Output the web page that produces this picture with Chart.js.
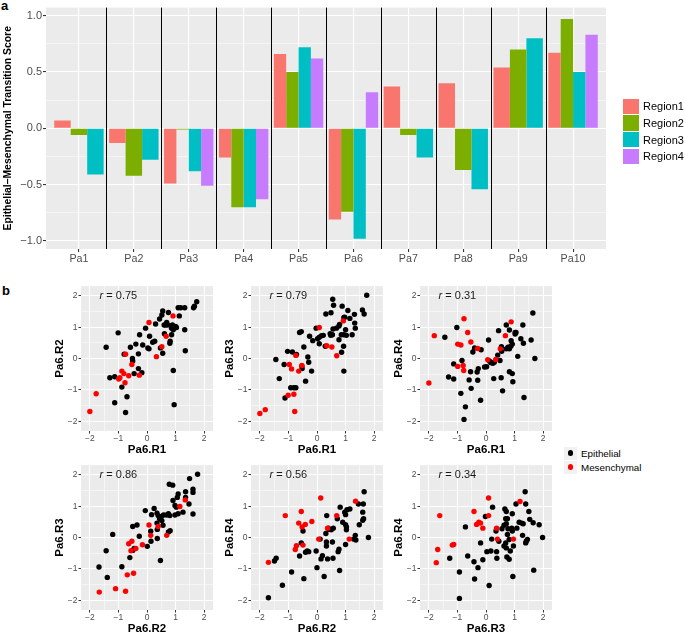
<!DOCTYPE html>
<html>
<head>
<meta charset="utf-8">
<title>EMT score by region</title>
<script src="https://cdn.jsdelivr.net/npm/chart.js@4.4.0/dist/chart.umd.min.js"></script>
<style>
    html, body { margin: 0; padding: 0; overflow: hidden; background: #fff; }
    #fig { position: relative; width: 685px; height: 633px; overflow: hidden; font-family: "Liberation Sans", Arial, Helvetica, sans-serif; }
    #fig canvas { position: absolute; }
    .tag { position: absolute; font-weight: bold; font-size: 13px; line-height: 13px; color: #000; }
    .legend { position: absolute; color: #000; }
    .bar-row { height: 16.7px; display: flex; align-items: center; font-size: 11px; }
    .bar-swatch { width: 15.5px; height: 15.5px; margin-right: 4.5px; }
    .pt-row { height: 14px; display: flex; align-items: center; font-size: 9.8px; }
    .pt-key { width: 13px; height: 13px; margin-right: 4px; background: #F2F2F2; display: flex; align-items: center; justify-content: center; }
    .pt-dot { width: 5.4px; height: 5.4px; border-radius: 50%; }
</style>
</head>
<body>
<div id="fig">
    <div class="tag" style="left:1px;top:-1px">a</div>
    <canvas id="barChart" width="685" height="275" style="left:0;top:0"></canvas>
    <div id="barLegend" class="legend" style="left:623px;top:98px"></div>

    <div class="tag" style="left:2px;top:284px">b</div>
    <canvas id="sc0" width="176" height="177"></canvas>
    <canvas id="sc1" width="176" height="177"></canvas>
    <canvas id="sc2" width="176" height="177"></canvas>
    <canvas id="sc3" width="176" height="177"></canvas>
    <canvas id="sc4" width="176" height="177"></canvas>
    <canvas id="sc5" width="176" height="177"></canvas>
    <div id="pointLegend" class="legend" style="left:564px;top:446px"></div>
</div>

<script>
// ---- panel a data ----
const patients = ['Pa1', 'Pa2', 'Pa3', 'Pa4', 'Pa5', 'Pa6', 'Pa7', 'Pa8', 'Pa9', 'Pa10'];
const region1 = [0.07, -0.13, -0.49, -0.26, 0.66, -0.81, 0.37, 0.40, 0.54, 0.67];
const region2 = [-0.06, -0.42, -0.01, -0.70, 0.50, -0.74, -0.06, -0.37, 0.70, 0.97];
const region3 = [-0.41, -0.28, -0.38, -0.70, 0.72, -0.98, -0.26, -0.54, 0.80, 0.50];
const region4 = [null, null, -0.51, -0.63, 0.62, 0.32, null, null, null, 0.83];
const regionNames = ['Region1', 'Region2', 'Region3', 'Region4'];
const scoreTicks = [-1, -0.5, 0, 0.5, 1];
const scoreGrid = [-1, -0.75, -0.5, -0.25, 0, 0.25, 0.5, 0.75, 1];

// ---- panel b data: [x, y] per sample ----
const r1r2Epi = [[-1.43,0.36],[-1.01,0.82],[-1.30,-0.61],[-1.13,-0.58],[-1.13,-1.41],[-0.88,-0.91],[-0.70,-1.22],[-0.75,-1.72],[-0.80,0.14],[-0.58,0.36],[-0.39,0.46],[-0.51,0.00],[-0.50,-0.08],[-0.26,0.76],[-0.30,0.15],[-0.30,-0.32],[-0.18,-0.45],[-0.45,-0.48],[-0.15,0.43],[-0.05,0.97],[0.09,0.71],[0.07,0.31],[0.03,0.34],[0.20,0.52],[0.27,0.55],[0.30,1.10],[0.44,1.26],[0.52,1.39],[0.55,1.52],[0.47,0.34],[0.55,0.17],[0.61,0.79],[0.69,1.15],[0.75,1.47],[0.81,0.55],[0.80,0.49],[0.86,0.76],[0.86,0.97],[0.89,1.07],[0.92,0.92],[1.00,1.02],[1.03,0.99],[0.89,1.02],[0.72,1.07],[0.64,1.07],[1.09,1.62],[1.18,1.62],[1.32,1.62],[1.13,1.36],[1.32,0.92],[1.34,0.25],[1.63,1.62],[1.66,1.67],[1.74,1.81],[0.92,-0.38],[0.95,-1.47],[0.60,1.07]];
const r1r2Mes = [[-2.00,-1.69],[-1.78,-1.12],[-0.99,-0.65],[-0.95,-0.61],[-0.88,-0.40],[-0.81,-0.48],[-0.77,-0.77],[-0.64,-0.55],[-0.53,-0.19],[-0.75,0.14],[-0.27,-0.53],[0.07,1.15],[0.33,0.06],[0.52,0.38],[0.67,0.71],[0.91,1.36]];

const r1r3Epi = [[1.74,2.02],[0.55,1.89],[0.58,1.70],[0.49,1.46],[0.31,1.42],[0.88,1.67],[1.08,1.53],[1.59,1.55],[1.65,1.42],[1.31,1.41],[0.94,1.31],[0.97,1.32],[1.15,1.28],[0.79,1.09],[0.77,1.04],[0.68,0.97],[0.56,0.94],[0.46,0.79],[0.48,0.74],[0.54,0.76],[0.85,0.76],[0.94,0.76],[1.03,0.74],[1.00,0.92],[1.34,0.97],[1.32,1.13],[1.23,0.76],[0.16,0.73],[0.08,0.68],[0.22,0.74],[0.02,0.63],[-0.15,0.57],[-0.26,0.71],[-0.03,0.97],[-0.55,0.86],[-0.61,0.83],[-0.46,0.37],[0.08,0.47],[0.29,0.39],[0.77,0.60],[0.86,0.20],[0.93,0.39],[0.94,-0.40],[-0.32,0.05],[-0.29,-0.12],[-0.19,-0.40],[-0.40,-0.72],[-0.53,-0.24],[-0.52,-0.32],[-1.03,0.23],[-0.86,0.21],[-0.72,0.13],[-1.44,-0.03],[-1.15,-0.19],[-1.32,-0.64],[-1.12,-1.26],[-0.92,-0.93],[-0.81,-0.93],[-0.74,-0.93]];
const r1r3Mes = [[-2.00,-1.75],[-1.81,-1.63],[-0.78,-1.69],[-1.01,-1.17],[-0.81,-1.14],[-0.97,-0.19],[-0.89,-0.33],[-0.64,-0.40],[-0.53,-0.22],[-0.74,0.10],[0.08,0.99],[0.34,0.41],[0.52,0.37],[0.69,0.09],[0.92,1.20]];

const r1r4Epi = [[-1.44,0.68],[-1.02,0.99],[-0.84,-0.06],[-1.13,-0.17],[-1.31,-0.59],[-1.13,-0.65],[-0.88,-1.11],[-0.72,-1.54],[-0.77,-1.94],[-0.19,-1.33],[-0.52,-0.95],[-0.59,-0.68],[-0.54,-0.42],[-0.29,-0.69],[-0.31,-0.43],[-0.27,-0.32],[-0.46,0.21],[-0.40,0.34],[-0.17,0.28],[0.09,0.59],[-0.05,-0.27],[0.02,-0.26],[0.12,-0.08],[0.17,-0.13],[0.24,-0.15],[0.29,-0.12],[0.27,-0.64],[0.44,0.89],[0.41,0.11],[0.49,-0.06],[0.53,-0.61],[0.58,-1.03],[0.54,0.38],[0.55,0.23],[0.71,1.07],[0.82,0.91],[0.77,0.36],[0.71,0.31],[0.82,0.31],[0.87,0.39],[0.88,0.57],[0.92,0.46],[0.82,-0.42],[0.92,-0.48],[0.94,-0.74],[1.02,0.78],[1.05,0.83],[1.02,0.83],[1.11,0.07],[1.29,1.07],[1.22,0.63],[1.31,0.49],[1.33,-1.24],[1.58,0.59],[1.64,1.45],[1.71,0.00]];
const r1r4Mes = [[-1.81,0.73],[-2.00,-0.78],[-0.77,1.27],[-0.64,0.83],[-0.99,0.46],[-0.88,0.43],[-0.53,0.53],[-0.29,0.32],[-0.99,-0.25],[-0.80,-0.22],[-0.78,-0.38],[0.06,-0.04],[0.34,-0.03],[0.50,0.31],[0.68,0.73],[0.88,1.17]];

const r2r3Epi = [[1.77,2.02],[1.49,1.88],[0.78,1.70],[0.90,1.67],[1.61,1.54],[1.61,1.44],[1.35,1.46],[1.09,1.39],[1.06,1.28],[1.35,1.28],[1.47,1.07],[0.91,1.18],[0.98,1.02],[1.03,0.97],[1.09,0.76],[0.98,0.72],[1.26,0.81],[1.61,0.75],[0.75,0.76],[0.80,0.70],[0.69,0.72],[0.58,0.72],[0.50,0.67],[0.39,0.70],[0.44,0.60],[0.25,0.93],[0.16,0.73],[0.35,0.78],[0.52,0.54],[0.56,0.39],[0.35,0.46],[-0.06,0.86],[-0.35,0.40],[-0.50,0.35],[0.36,0.26],[0.13,0.20],[0.14,-0.12],[0.36,-0.03],[0.01,-0.28],[0.47,-0.73],[0.75,0.18],[0.81,0.22],[-0.60,-0.64],[-0.50,-0.41],[-0.45,-0.35],[-0.27,0.04],[-1.20,0.10],[-1.43,-0.42],[-1.68,-0.94],[-1.39,-1.27],[-0.88,-0.93]];
const r2r3Mes = [[-1.67,-1.74],[-1.10,-1.63],[-0.75,-1.71],[-0.69,-1.19],[-0.47,-1.14],[-0.64,-0.20],[-0.53,-0.12],[-0.56,-0.42],[-0.39,-0.35],[-0.16,-0.23],[0.13,0.07],[0.07,0.40],[0.39,0.35],[0.69,0.07],[1.15,0.99],[1.34,1.20]];

const r2r4Epi = [[1.65,1.46],[1.45,1.07],[1.62,1.07],[1.60,0.81],[1.63,0.60],[1.60,0.55],[1.48,0.41],[1.80,0.00],[1.34,0.07],[1.36,-0.08],[1.28,-0.05],[1.05,0.89],[0.97,0.81],[1.00,0.73],[0.81,0.97],[1.15,0.91],[0.90,0.49],[1.00,0.41],[1.03,0.34],[1.03,0.25],[1.00,-0.22],[0.77,-0.37],[0.74,-0.45],[0.79,-1.05],[0.71,0.60],[0.57,0.30],[0.50,0.25],[0.42,0.26],[0.40,0.30],[0.34,0.70],[0.31,0.13],[0.33,-0.14],[0.33,-0.27],[0.37,-0.68],[0.54,-0.14],[0.56,-0.66],[0.11,-0.05],[0.14,-0.68],[0.19,-0.58],[0.00,-0.96],[0.25,-1.24],[-0.03,-0.43],[-0.34,-0.43],[-0.29,-0.45],[-0.40,-0.47],[-0.49,0.21],[-0.55,-0.17],[-0.61,-0.59],[-0.46,-1.31],[-0.89,-1.10],[-1.21,-1.52],[-1.70,-1.92],[-1.43,-0.66],[-1.49,-0.75]];
const r2r4Mes = [[-1.70,-0.79],[-1.11,0.70],[-0.55,0.83],[-0.64,0.46],[-0.41,0.42],[-0.52,0.34],[-0.18,0.51],[0.13,1.26],[0.06,-0.05],[0.37,0.30],[0.69,0.70],[1.35,1.16],[1.13,-0.05],[-0.72,-0.26],[-0.76,-0.38],[-0.49,-0.24]];

const r3r4Epi = [[-0.72,0.34],[-0.02,0.67],[0.23,0.97],[-0.19,-0.17],[-1.27,-0.66],[-0.93,-1.10],[-0.64,-0.59],[-0.42,-0.77],[-0.28,-0.96],[-0.40,-1.32],[-0.11,-0.71],[0.11,-1.53],[-0.93,-1.94],[0.03,-0.45],[0.17,-0.43],[0.20,-0.05],[0.35,0.21],[0.37,-0.45],[0.38,-0.66],[0.45,-0.12],[0.56,0.28],[0.63,0.39],[0.66,0.91],[0.71,0.83],[0.69,0.60],[0.75,0.60],[0.77,0.28],[0.75,0.10],[0.69,-0.17],[0.63,-0.27],[0.71,-0.33],[0.85,-0.43],[0.73,-0.62],[0.81,-0.69],[0.94,-1.24],[0.92,0.76],[0.90,0.30],[0.92,0.21],[0.96,-0.27],[0.81,-0.06],[1.05,1.07],[1.08,0.30],[1.16,0.49],[1.25,0.46],[1.30,0.44],[1.28,0.07],[1.37,1.46],[1.39,1.07],[1.41,-0.12],[1.45,-0.06],[1.39,-0.17],[1.50,0.83],[1.53,0.58],[1.65,0.47],[1.86,0.41],[1.98,0.00],[1.67,-1.04],[0.71,0.44]];
const r3r4Mes = [[-1.62,0.70],[-1.69,-0.38],[-1.74,-0.80],[-1.18,-0.24],[-1.13,-0.22],[-0.42,0.83],[0.09,1.26],[0.09,0.70],[-0.33,0.42],[-0.25,0.49],[-0.19,0.46],[-0.11,0.30],[0.37,0.30],[0.40,-0.05],[0.96,-0.05],[1.19,1.15]];

const pairTitles = [['Pa6.R1', 'Pa6.R2'], ['Pa6.R1', 'Pa6.R3'], ['Pa6.R1', 'Pa6.R4'],
                    ['Pa6.R2', 'Pa6.R3'], ['Pa6.R2', 'Pa6.R4'], ['Pa6.R3', 'Pa6.R4']];
const pairEpi = [r1r2Epi, r1r3Epi, r1r4Epi, r2r3Epi, r2r4Epi, r3r4Epi];
const pairMes = [r1r2Mes, r1r3Mes, r1r4Mes, r2r3Mes, r2r4Mes, r3r4Mes];
const pairR = [0.75, 0.79, 0.31, 0.86, 0.56, 0.34];
const pairTicks = [-2, -1, 0, 1, 2];
const pairGrid = [-2, -1.5, -1, -0.5, 0, 0.5, 1, 1.5, 2];
const groupNames = ['Epithelial', 'Mesenchymal'];

// ---- styling ----
const regionColors = ['#F8766D', '#7CAE00', '#00BFC4', '#C77CFF'];
const groupColors = ['#000000', '#FF0000'];
const FONT = '"Liberation Sans", Arial, Helvetica, sans-serif';
Chart.defaults.font.family = FONT;
Chart.defaults.color = '#4D4D4D';
Chart.defaults.animation = false;

const minusFmt = (v, digits) => v.toFixed(digits).replace('-', '\u2212');

// grey ggplot-like panel behind the grid
const panelBg = {
    id: 'panelBg',
    beforeDraw(chart) {
        const { ctx, chartArea: a } = chart;
        ctx.save();
        ctx.fillStyle = '#EBEBEB';
        ctx.fillRect(a.left, a.top, a.right - a.left, a.bottom - a.top);
        ctx.restore();
    }
};

// black lines between patients
const patientSeparators = {
    id: 'patientSeparators',
    beforeDatasetsDraw(chart) {
        const { ctx, chartArea: a, scales: { x } } = chart;
        ctx.save();
        ctx.strokeStyle = '#000';
        ctx.lineWidth = 1;
        for (let i = 0; i < patients.length - 1; i++) {
            const px = Math.round(x.getPixelForValue(i + 0.5)) + 0.5;
            ctx.beginPath();
            ctx.moveTo(px, a.top);
            ctx.lineTo(px, a.bottom);
            ctx.stroke();
        }
        ctx.restore();
    }
};

// "r = 0.75" label, with italic r
const rNote = {
    id: 'rNote',
    afterDatasetsDraw(chart, args, opts) {
        const { ctx, scales: { x, y } } = chart;
        const px = x.getPixelForValue(-1);
        const py = y.getPixelForValue(2);
        const italic = 'italic 11px ' + FONT;
        const normal = '11px ' + FONT;
        const rest = ' = ' + opts.value.toFixed(2);
        ctx.save();
        ctx.font = italic;
        const w1 = ctx.measureText('r').width;
        ctx.font = normal;
        const w2 = ctx.measureText(rest).width;
        const start = px - (w1 + w2) / 2;
        ctx.fillStyle = '#1a1a1a';
        ctx.textBaseline = 'middle';
        ctx.font = italic;
        ctx.fillText('r', start, py);
        ctx.font = normal;
        ctx.fillText(rest, start + w1, py);
        ctx.restore();
    }
};

// ---- panel a ----
const initializeBarChart = () => {
    const ctx = document.getElementById('barChart');
    const scores = [region1, region2, region3, region4];
    return new Chart(ctx, {
        type: 'bar',
        data: {
            datasets: regionNames.map((name, r) => ({
                label: name,
                data: patients.map((p, i) => ({ x: i, y: scores[r][i] })),
                backgroundColor: regionColors[r],
                borderWidth: 0,
                categoryPercentage: 0.9,
                barPercentage: 1.0,
                skipNull: true
            }))
        },
        options: {
            responsive: false,
            devicePixelRatio: 1,
            events: [],
            layout: { padding: { top: 7, right: 79, left: 0, bottom: 0 } },
            plugins: { legend: { display: false }, tooltip: { enabled: false } },
            scales: {
                x: {
                    type: 'linear',
                    min: -0.6,
                    max: 9.6,
                    bounds: 'data',
                    offset: false,
                    afterBuildTicks: s => { s.ticks = patients.map((p, i) => ({ value: i })); },
                    afterFit: s => { s.height = 26; },
                    grid: { offset: false, color: '#FFFFFF', lineWidth: 1.1, tickColor: '#333333', tickLength: 3 },
                    border: { display: false },
                    ticks: {
                        autoSkip: false,
                        maxRotation: 0,
                        padding: 1,
                        color: '#4D4D4D',
                        font: { size: 10.7 },
                        callback: v => patients[v]
                    }
                },
                y: {
                    min: -1.071,
                    max: 1.071,
                    bounds: 'data',
                    afterBuildTicks: s => { s.ticks = scoreGrid.map(v => ({ value: v })); },
                    afterFit: s => { s.width = 46; },
                    grid: {
                        color: '#FFFFFF',
                        lineWidth: c => scoreTicks.includes(c.tick.value) ? 1.1 : 0.5,
                        tickColor: c => scoreTicks.includes(c.tick.value) ? '#333333' : 'rgba(0,0,0,0)',
                        tickLength: 3
                    },
                    border: { display: false },
                    ticks: {
                        autoSkip: false,
                        padding: 1,
                        color: '#4D4D4D',
                        font: { size: 11 },
                        callback: v => scoreTicks.includes(v) ? minusFmt(v, 1) : ''
                    },
                    title: {
                        display: true,
                        text: 'Epithelial\u2013Mesenchymal Transition Score',
                        color: '#000',
                        font: { size: 10.4, weight: 'bold' },
                        padding: { top: 2, bottom: 0 }
                    }
                }
            }
        },
        plugins: [panelBg, patientSeparators]
    });
};

// ---- panel b ----
const scatterLefts = [41, 211, 380];
const scatterTops = [280, 459];

const makeScatter = (k) => {
    const canvas = document.getElementById('sc' + k);
    canvas.style.left = scatterLefts[k % 3] + 'px';
    canvas.style.top = scatterTops[Math.floor(k / 3)] + 'px';
    const axis = (title, isX) => ({
        type: 'linear',
        min: -2.31,
        max: 2.31,
        bounds: 'data',
        afterBuildTicks: s => { s.ticks = pairGrid.map(v => ({ value: v })); },
        afterFit: s => { if (isX) { s.height = 26; } else { s.width = 40; } },
        grid: {
            color: '#FFFFFF',
            lineWidth: c => pairTicks.includes(c.tick.value) ? 1 : 0.5,
            tickColor: c => pairTicks.includes(c.tick.value) ? '#333333' : 'rgba(0,0,0,0)',
            tickLength: 2.5
        },
        border: { display: false },
        ticks: {
            autoSkip: false,
            maxRotation: 0,
            padding: isX ? 0.5 : 1,
            color: '#4D4D4D',
            font: { size: 8.5 },
            callback: v => pairTicks.includes(v) ? minusFmt(v, 0) : ''
        },
        title: {
            display: true,
            text: title,
            color: '#000',
            font: { size: 11.5, weight: 'bold' },
            padding: isX ? { top: 0, bottom: 0 } : { top: 12, bottom: 0 }
        }
    });
    return new Chart(canvas, {
        type: 'scatter',
        data: {
            datasets: [
                { label: groupNames[1], data: pairMes[k], pointBackgroundColor: groupColors[1], pointBorderWidth: 0, pointRadius: 2.7 },
                { label: groupNames[0], data: pairEpi[k], pointBackgroundColor: groupColors[0], pointBorderWidth: 0, pointRadius: 2.7 }
            ]
        },
        options: {
            responsive: false,
            devicePixelRatio: 1,
            events: [],
            layout: { padding: { top: 4, right: 1, left: 0, bottom: 0 } },
            plugins: {
                legend: { display: false },
                tooltip: { enabled: false },
                rNote: { value: pairR[k] }
            },
            scales: {
                x: axis(pairTitles[k][0], true),
                y: axis(pairTitles[k][1], false)
            }
        },
        plugins: [panelBg, rNote]
    });
};

// ---- legends ----
const buildLegends = () => {
    const barLegend = document.getElementById('barLegend');
    regionNames.forEach((name, r) => {
        const row = document.createElement('div');
        row.className = 'bar-row';
        row.innerHTML = '<span class="bar-swatch" style="background:' + regionColors[r] + '"></span>' + name;
        barLegend.appendChild(row);
    });
    const pointLegend = document.getElementById('pointLegend');
    groupNames.forEach((name, g) => {
        const row = document.createElement('div');
        row.className = 'pt-row';
        row.innerHTML = '<span class="pt-key"><span class="pt-dot" style="background:' + groupColors[g] + '"></span></span>' + name;
        pointLegend.appendChild(row);
    });
};

initializeBarChart();
for (let k = 0; k < 6; k++) makeScatter(k);
buildLegends();
</script>
</body>
</html>
